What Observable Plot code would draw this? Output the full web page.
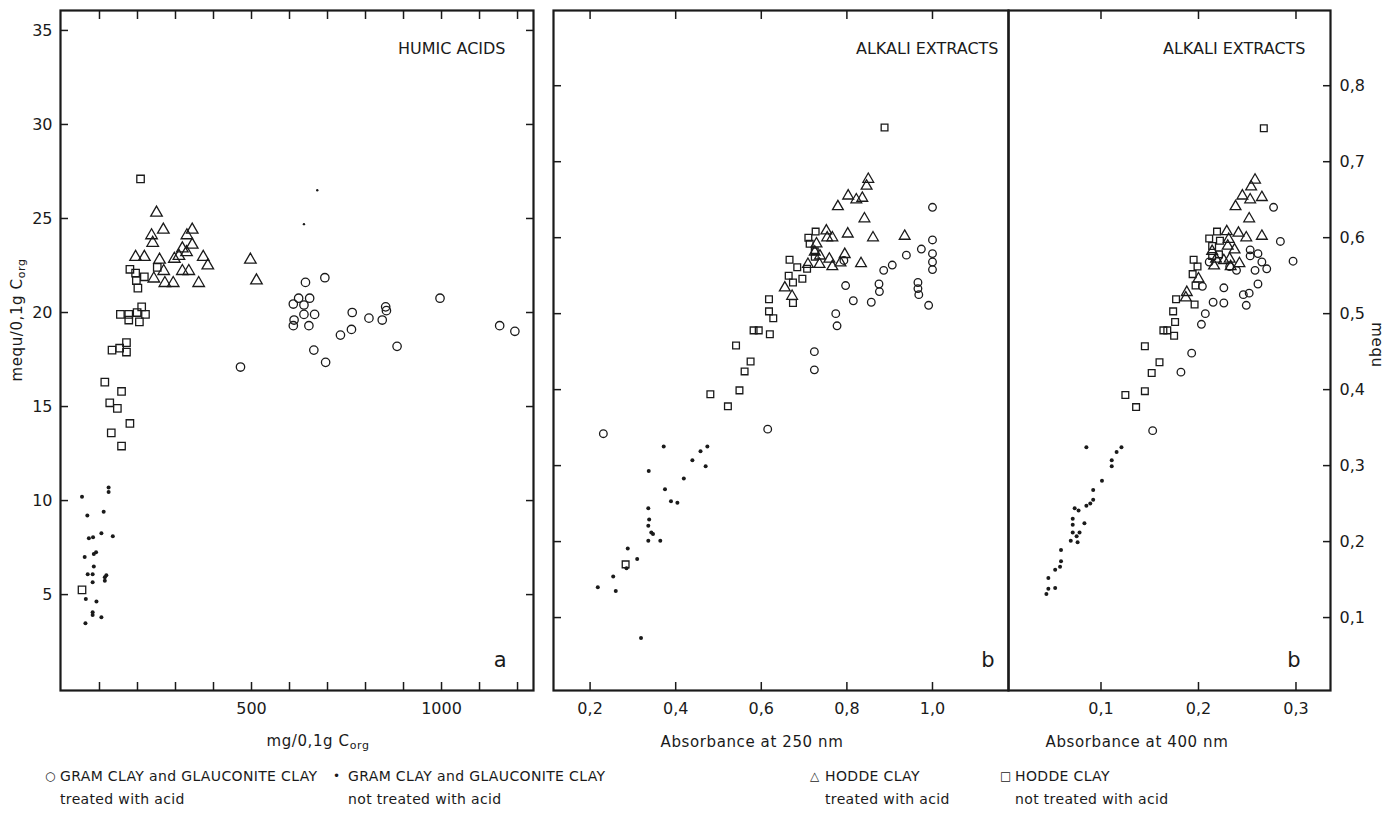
<!DOCTYPE html>
<html><head><meta charset="utf-8">
<script src="https://cdn.jsdelivr.net/npm/d3@7"></script>
<script src="https://cdn.jsdelivr.net/npm/@observablehq/plot@0.6"></script>
<style>
body{margin:0;background:#fff;font-family:"DejaVu Sans",sans-serif;color:#1a1a1a;}
#wrap{position:relative;width:1390px;height:838px;overflow:hidden;background:#fff;}
.lbl{position:absolute;font-size:15px;white-space:nowrap;letter-spacing:0.6px;transform:translate(-50%,-50%);}
.lbl sub{font-size:11px;vertical-align:-3px;}
.leg{position:absolute;font-size:14px;line-height:23px;letter-spacing:0.35px;white-space:nowrap;}
.leg .sym{position:absolute;left:-15px;top:0;font-size:12px;}
</style></head><body><div id="wrap"></div>
<script>
// ---------- Panel a: Humic acids (x: mg/0,1g Corg, y: mequ/0,1g Corg) ----------
const aGramTreated = [[642,21.6],[624,20.76],[653,20.76],[610,20.45],[638,20.4],[612,19.6],[638,19.9],[666,19.9],[610,19.3],[651,19.3],[664,18.0],[693,21.85],[765,20.0],[763,19.1],[734,18.8],[809,19.7],[844,19.6],[853,20.3],[855,20.1],[883,18.2],[695,17.35],[996,20.76],[1153,19.3],[1193,19.0],[471,17.1]];
const aGramNotTreated = [[124,10.7],[124,10.45],[54,10.2],[68,9.2],[111,9.4],[72,8.0],[83,8.05],[105,8.26],[135,8.1],[61,7.0],[85,7.16],[91,7.25],[85,6.5],[69,6.08],[82,6.08],[82,5.65],[114,5.92],[118,6.03],[114,5.74],[64,4.77],[92,4.63],[82,4.06],[82,3.92],[105,3.79],[63,3.47]];
const aSpecks = [[638,24.7],[673,26.5]];
const aHoddeTreated = [[250,25.3],[237,24.1],[268,24.4],[240,23.7],[344,24.4],[330,24.1],[344,23.6],[329,23.2],[318,23.4],[309,23.0],[297,22.85],[195,22.95],[218,22.95],[258,22.8],[373,22.95],[385,22.5],[269,22.2],[318,22.2],[335,22.2],[243,21.8],[272,21.56],[294,21.56],[361,21.56],[497,22.8],[513,21.7]];
const aHoddeNotTreated = [[208,27.1],[180,22.3],[195,22.1],[197,21.7],[218,21.9],[201,21.3],[252,22.4],[155,19.9],[177,19.9],[177,19.6],[199,20.0],[211,20.3],[221,19.9],[205,19.5],[133,18.0],[153,18.1],[171,18.4],[171,17.9],[114,16.3],[158,15.8],[127,15.2],[147,14.9],[180,14.1],[131,13.6],[158,12.9],[54,5.25]];
const aYTicks = [5,10,15,20,25,30,35];
const aXMinorTicks = [100,200,300,400,500,600,700,800,900,1000,1100,1200];
const aXLabels = [500,1000];

// ---------- Panel b: Alkali extracts, absorbance at 250 nm (y: mequ) ----------
const bGramTreated = [[0.231,0.342],[0.615,0.348],[1.0,0.640],[1.0,0.597],[0.974,0.585],[0.939,0.577],[1.0,0.579],[1.0,0.568],[1.0,0.558],[0.906,0.564],[0.886,0.557],[0.797,0.537],[0.875,0.539],[0.876,0.529],[0.966,0.541],[0.966,0.533],[0.968,0.525],[0.815,0.517],[0.857,0.515],[0.991,0.511],[0.774,0.500],[0.777,0.484],[0.724,0.450],[0.724,0.426],[0.793,0.570]];
const bGramNotTreated = [[0.372,0.325],[0.337,0.293],[0.474,0.325],[0.458,0.319],[0.439,0.307],[0.470,0.299],[0.419,0.283],[0.375,0.269],[0.389,0.253],[0.404,0.251],[0.336,0.244],[0.338,0.229],[0.336,0.221],[0.343,0.212],[0.347,0.210],[0.336,0.201],[0.364,0.201],[0.288,0.191],[0.310,0.177],[0.285,0.165],[0.254,0.154],[0.218,0.140],[0.260,0.135],[0.319,0.073]];
const bHoddeTreated = [[0.850,0.677],[0.846,0.668],[0.803,0.655],[0.822,0.650],[0.836,0.652],[0.779,0.641],[0.841,0.625],[0.752,0.609],[0.754,0.600],[0.766,0.600],[0.802,0.605],[0.861,0.600],[0.935,0.602],[0.729,0.592],[0.725,0.581],[0.737,0.576],[0.759,0.572],[0.795,0.578],[0.709,0.565],[0.736,0.565],[0.766,0.562],[0.785,0.567],[0.833,0.566],[0.655,0.534],[0.672,0.523]];
const bHoddeNotTreated = [[0.888,0.745],[0.618,0.519],[0.618,0.503],[0.628,0.494],[0.582,0.478],[0.594,0.478],[0.620,0.473],[0.541,0.458],[0.575,0.437],[0.561,0.424],[0.481,0.394],[0.549,0.399],[0.522,0.378],[0.283,0.170],[0.727,0.608],[0.710,0.600],[0.713,0.592],[0.725,0.582],[0.725,0.575],[0.666,0.571],[0.684,0.561],[0.707,0.559],[0.664,0.550],[0.674,0.541],[0.696,0.546],[0.674,0.514]];
const bXLabels = [0.2,0.4,0.6,0.8,1.0];
const meqTicks = [0.1,0.2,0.3,0.4,0.5,0.6,0.7,0.8];

// ---------- Panel c: Alkali extracts, absorbance at 400 nm (y: mequ) ----------
const cGramTreated = [[0.277,0.640],[0.284,0.595],[0.297,0.569],[0.253,0.584],[0.261,0.579],[0.253,0.576],[0.211,0.568],[0.232,0.562],[0.239,0.557],[0.265,0.568],[0.270,0.559],[0.258,0.557],[0.204,0.536],[0.226,0.534],[0.261,0.539],[0.246,0.525],[0.252,0.527],[0.249,0.511],[0.215,0.515],[0.226,0.514],[0.207,0.500],[0.203,0.486],[0.193,0.448],[0.182,0.423],[0.153,0.346]];
const cGramNotTreated = [[0.085,0.324],[0.121,0.324],[0.116,0.318],[0.111,0.307],[0.111,0.299],[0.101,0.280],[0.092,0.268],[0.092,0.255],[0.089,0.250],[0.085,0.247],[0.073,0.244],[0.077,0.241],[0.071,0.230],[0.071,0.222],[0.083,0.224],[0.071,0.212],[0.078,0.212],[0.075,0.207],[0.069,0.201],[0.076,0.199],[0.059,0.189],[0.059,0.174],[0.058,0.167],[0.053,0.163],[0.046,0.152],[0.046,0.138],[0.053,0.139],[0.044,0.131]];
const cHoddeTreated = [[0.258,0.676],[0.254,0.667],[0.245,0.655],[0.253,0.650],[0.265,0.653],[0.238,0.641],[0.252,0.625],[0.229,0.608],[0.241,0.606],[0.249,0.600],[0.265,0.602],[0.231,0.598],[0.230,0.589],[0.237,0.584],[0.214,0.582],[0.218,0.572],[0.226,0.570],[0.232,0.572],[0.216,0.563],[0.233,0.562],[0.242,0.566],[0.200,0.546],[0.188,0.528],[0.187,0.521]];
const cHoddeNotTreated = [[0.267,0.744],[0.219,0.608],[0.211,0.599],[0.222,0.596],[0.214,0.589],[0.214,0.576],[0.221,0.578],[0.195,0.571],[0.199,0.562],[0.194,0.552],[0.197,0.537],[0.177,0.519],[0.196,0.512],[0.174,0.503],[0.176,0.489],[0.164,0.478],[0.168,0.478],[0.175,0.471],[0.145,0.457],[0.160,0.436],[0.152,0.422],[0.145,0.398],[0.125,0.393],[0.136,0.377]];
const cXLabels = [0.1,0.2,0.3];

// ---------- Text ----------
const legendItems = [
  {sym:"○", l1:"GRAM CLAY and GLAUCONITE CLAY", l2:"treated with acid"},
  {sym:"•", l1:"GRAM CLAY and GLAUCONITE CLAY", l2:"not treated with acid"},
  {sym:"△", l1:"HODDE CLAY", l2:"treated with acid"},
  {sym:"□", l1:"HODDE CLAY", l2:"not treated with acid"}
];

const ink = "#1a1a1a";
const comma = d => d.toFixed(1).replace(".", ",");
const plain = d => String(d);
const X = d => d[0], Y = d => d[1];

function panel(cfg) {
  const marks = [];
  if (cfg.yTicksLeft) marks.push(Plot.axisY({anchor:"left", ticks: cfg.yTicksLeft, tickSize: 8, dx: 8, tickFormat: () => "", label: null, stroke: ink, strokeWidth: 1.5}));
  if (cfg.yTicksRight) marks.push(Plot.axisY({anchor:"right", ticks: cfg.yTicksRight, tickSize: 8, dx: -8, tickFormat: () => "", label: null, stroke: ink, strokeWidth: 1.5}));
  if (cfg.xTicksTop) marks.push(Plot.axisX({anchor:"top", ticks: cfg.xTicksTop, tickSize: 8, dy: 8, tickFormat: () => "", label: null, stroke: ink, strokeWidth: 1.5}));
  if (cfg.xTicksBottom) marks.push(Plot.axisX({anchor:"bottom", ticks: cfg.xTicksBottom, tickSize: 8, dy: -8, tickFormat: () => "", label: null, stroke: ink, strokeWidth: 1.5}));
  if (cfg.yLabelsLeft) marks.push(Plot.axisY({anchor:"left", ticks: cfg.yLabelsLeft, tickSize: 0, tickPadding: 8, tickFormat: cfg.yFormat, label: null, fontSize: 16, fill: ink}));
  if (cfg.yLabelsRight) marks.push(Plot.axisY({anchor:"right", ticks: cfg.yLabelsRight, tickSize: 0, tickPadding: 9, tickFormat: cfg.yFormat, label: null, fontSize: 16, fill: ink}));
  if (cfg.xLabels) marks.push(Plot.axisX({anchor:"bottom", ticks: cfg.xLabels, tickSize: 0, tickPadding: 12, tickFormat: cfg.xFormat, label: null, fontSize: 16, fill: ink}));
  marks.push(Plot.frame({stroke: ink, strokeWidth: 2.2}));
  marks.push(Plot.dot(cfg.gramTreated, {x: X, y: Y, r: cfg.rc, stroke: ink, strokeWidth: 1.3, fill: "none"}));
  marks.push(Plot.dot(cfg.gramNot, {x: X, y: Y, r: 2, fill: ink, stroke: "none"}));
  if (cfg.specks) marks.push(Plot.dot(cfg.specks, {x: X, y: Y, r: 1.2, fill: ink, stroke: "none"}));
  marks.push(Plot.dot(cfg.hoddeTreated, {x: X, y: Y, symbol: "triangle", r: cfg.rt, stroke: ink, strokeWidth: 1.3, fill: "none"}));
  marks.push(Plot.dot(cfg.hoddeNot, {x: X, y: Y, symbol: "square", r: cfg.rs, stroke: ink, strokeWidth: 1.3, fill: "none"}));
  marks.push(Plot.text([cfg.title], {frameAnchor: "top-right", textAnchor: "end", lineAnchor: "middle", dx: cfg.titleDx, dy: 38, fontSize: 16, fill: ink, text: d => d, style: "letter-spacing:1.2px"}));
  marks.push(Plot.text([cfg.letter], {frameAnchor: "bottom-right", textAnchor: "end", lineAnchor: "middle", dx: cfg.letterDx, dy: -30, fontSize: 21, fill: ink, text: d => d}));
  const svg = Plot.plot({
    width: cfg.width, height: 760,
    marginLeft: cfg.ml, marginRight: cfg.mr, marginTop: 10, marginBottom: 70,
    x: {domain: cfg.xDomain}, y: {domain: cfg.yDomain},
    style: {fontFamily: "DejaVu Sans, sans-serif", fontSize: "16px", background: "transparent", overflow: "visible", color: ink},
    marks
  });
  svg.style.position = "absolute";
  svg.style.left = cfg.left + "px";
  svg.style.top = "0px";
  return svg;
}

const wrap = document.getElementById("wrap");

wrap.appendChild(panel({
  left: 0, width: 560, ml: 60, mr: 27,
  xDomain: [-2.6, 1242], yDomain: [-0.1, 36.06],
  yTicksLeft: aYTicks, yTicksRight: aYTicks, xTicksTop: aXMinorTicks, xTicksBottom: aXMinorTicks,
  yLabelsLeft: aYTicks, xLabels: aXLabels, yFormat: plain, xFormat: plain,
  gramTreated: aGramTreated, gramNot: aGramNotTreated, specks: aSpecks, hoddeTreated: aHoddeTreated, hoddeNot: aHoddeNotTreated,
  rc: 4.2, rt: 4.3, rs: 4.2, title: "HUMIC ACIDS", titleDx: -28, letter: "a", letterDx: -27
}));

wrap.appendChild(panel({
  left: 520, width: 490, ml: 33, mr: 2,
  xDomain: [0.1145, 1.1776], yDomain: [0.004, 0.899],
  yTicksLeft: meqTicks, xTicksBottom: bXLabels, xTicksTop: bXLabels,
  xLabels: bXLabels, xFormat: comma,
  gramTreated: bGramTreated, gramNot: bGramNotTreated, hoddeTreated: bHoddeTreated, hoddeNot: bHoddeNotTreated,
  rc: 3.8, rt: 4.0, rs: 3.8, title: "ALKALI EXTRACTS", titleDx: -10, letter: "b", letterDx: -14
}));

wrap.appendChild(panel({
  left: 1006, width: 384, ml: 2, mr: 60,
  xDomain: [0.00513, 0.3354], yDomain: [0.004, 0.899],
  yTicksRight: meqTicks, yLabelsRight: meqTicks, yFormat: comma, xTicksBottom: cXLabels, xTicksTop: cXLabels,
  xLabels: cXLabels, xFormat: comma,
  gramTreated: cGramTreated, gramNot: cGramNotTreated, hoddeTreated: cHoddeTreated, hoddeNot: cHoddeNotTreated,
  rc: 3.8, rt: 4.0, rs: 3.8, title: "ALKALI EXTRACTS", titleDx: -25, letter: "b", letterDx: -30
}));

function addLabel(html, x, y, rot) {
  const d = document.createElement("div");
  d.className = "lbl";
  d.innerHTML = html;
  d.style.left = x + "px"; d.style.top = y + "px";
  if (rot) d.style.transform = `translate(-50%,-50%) rotate(${rot}deg)`;
  wrap.appendChild(d);
}
addLabel("mequ/0,1g C<sub>org</sub>", 18, 320, -90);
addLabel("mequ", 1377, 345, 90);
addLabel("mg/0,1g C<sub>org</sub>", 318, 742);
addLabel("Absorbance at 250 nm", 752, 742);
addLabel("Absorbance at 400 nm", 1137, 742);

const legX = [60, 348, 825, 1015];
legendItems.forEach((it, i) => {
  const d = document.createElement("div");
  d.className = "leg";
  d.style.left = legX[i] + "px";
  d.style.top = "765px";
  d.innerHTML = `<span class="sym">${it.sym}</span>${it.l1}<br>${it.l2}`;
  wrap.appendChild(d);
});
</script>
</body></html>
